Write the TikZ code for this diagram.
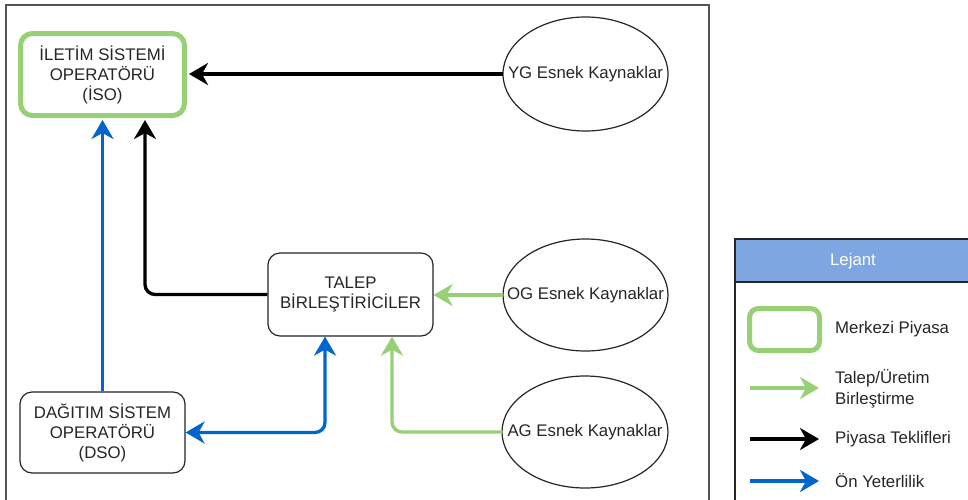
\documentclass[tikz,border=0pt]{standalone}
\usepackage{fontspec}
\setmainfont{Liberation Sans}
\usetikzlibrary{arrows.meta}
\definecolor{gr}{HTML}{97D077}
\definecolor{bl}{HTML}{0066CC}
\definecolor{hd}{HTML}{7EA6E0}
\definecolor{tx}{HTML}{262626}
\definecolor{fr}{HTML}{555555}
\begin{document}
\begin{tikzpicture}[x=1pt,y=-1pt,
  every node/.style={font=\fontsize{16.8}{20}\selectfont, text=tx, align=center, inner sep=0pt},
  box/.style={draw=black!85, line width=1.2pt, rounded corners=12pt, fill=white},
  isobox/.style={draw=gr, line width=5pt, rounded corners=12pt, fill=white},
  res/.style={minimum width=165pt, minimum height=113pt},
  tip/.style={-{Stealth[length=19pt,width=22pt,inset=6pt]}},
  blk/.style={draw=black, line width=3.3pt, tip},
  blu/.style={draw=bl, line width=3.3pt, tip},
  grn/.style={draw=gr, line width=3.3pt, tip},
  leg/.style={anchor=west, align=left}
]
\clip (0,0) rectangle (968,499);
\fill[white] (0,0) rectangle (968,499);
% outer frame
\draw[fr, line width=1.3pt] (6,5) rectangle (709,520);

% nodes
\node[isobox, minimum width=164pt, minimum height=82pt] (ISO) at (102.5,74.5) {İLETİM SİSTEMİ\\OPERATÖRÜ\\(İSO)};
\node[box, minimum width=165pt, minimum height=83pt] (TAL) at (350.5,294.5) {TALEP\\BİRLEŞTİRİCİLER};
\node[box, minimum width=165pt, minimum height=81pt] (DSO) at (102.5,432.5) {DAĞITIM SİSTEM\\OPERATÖRÜ\\(DSO)};
\draw[black!85, line width=1.2pt, fill=white] (585.5,74) ellipse [x radius=82.5, y radius=57];
\draw[black!85, line width=1.2pt, fill=white] (585.5,295) ellipse [x radius=82.5, y radius=56];
\draw[black!85, line width=1.2pt, fill=white] (585,432) ellipse [x radius=83, y radius=56];
\node[res] (YG) at (585.5,74) {YG Esnek Kaynaklar};
\node[res] (OG) at (585.5,295) {OG Esnek Kaynaklar};
\node[res] (AG) at (585,432) {AG Esnek Kaynaklar};

% connectors
\draw[blk, shorten >=2pt] (YG.west) -- (YG.west -| ISO.east);
\draw[blk, shorten >=2pt, rounded corners=10pt] (TAL.west) -| ([xshift=42.5pt]ISO.south);
\draw[blu, shorten >=2pt] (DSO.north) -- (DSO.north |- ISO.south);
\draw[blu, {Stealth[length=19pt,width=22pt,inset=6pt]}-{Stealth[length=19pt,width=22pt,inset=6pt]}, rounded corners=10pt] (DSO.east) -| ([xshift=-25.5pt]TAL.south);
\draw[grn] (OG.west) -- (OG.west -| TAL.east);
\draw[grn, rounded corners=10pt] (AG.west) -| ([xshift=41.5pt]TAL.south);

% legend
\fill[white] (735,239) rectangle (980,560);
\fill[hd] (735,239) rectangle (980,282);
\draw[black!85, line width=1.3pt] (735,239) rectangle (980,560);
\draw[black!85, line width=1.3pt] (735,282) -- (980,282);
\node[text=white] (LT) at (853,261) {Lejant};
\node[isobox, minimum width=70pt, minimum height=42pt, rounded corners=9pt] (L1) at (784.5,329.5) {};
\node[leg] (L1t) at (835,329) {Merkezi Piyasa};
\coordinate (G1) at (750,388); \coordinate (G2) at (819,388);
\draw[grn] (G1) -- (G2);
\node[leg, font=\fontsize{16.8}{21}\selectfont] (L2t) at (835,389) {Talep/Üretim\\Birleştirme};
\coordinate (K1) at (750,439); \coordinate (K2) at (819,439);
\draw[blk] (K1) -- (K2);
\node[leg] (L3t) at (835,439) {Piyasa Teklifleri};
\coordinate (B1) at (750,481); \coordinate (B2) at (819,481);
\draw[blu] (B1) -- (B2);
\node[leg] (L4t) at (835,481) {Ön Yeterlilik};
\end{tikzpicture}
\end{document}
